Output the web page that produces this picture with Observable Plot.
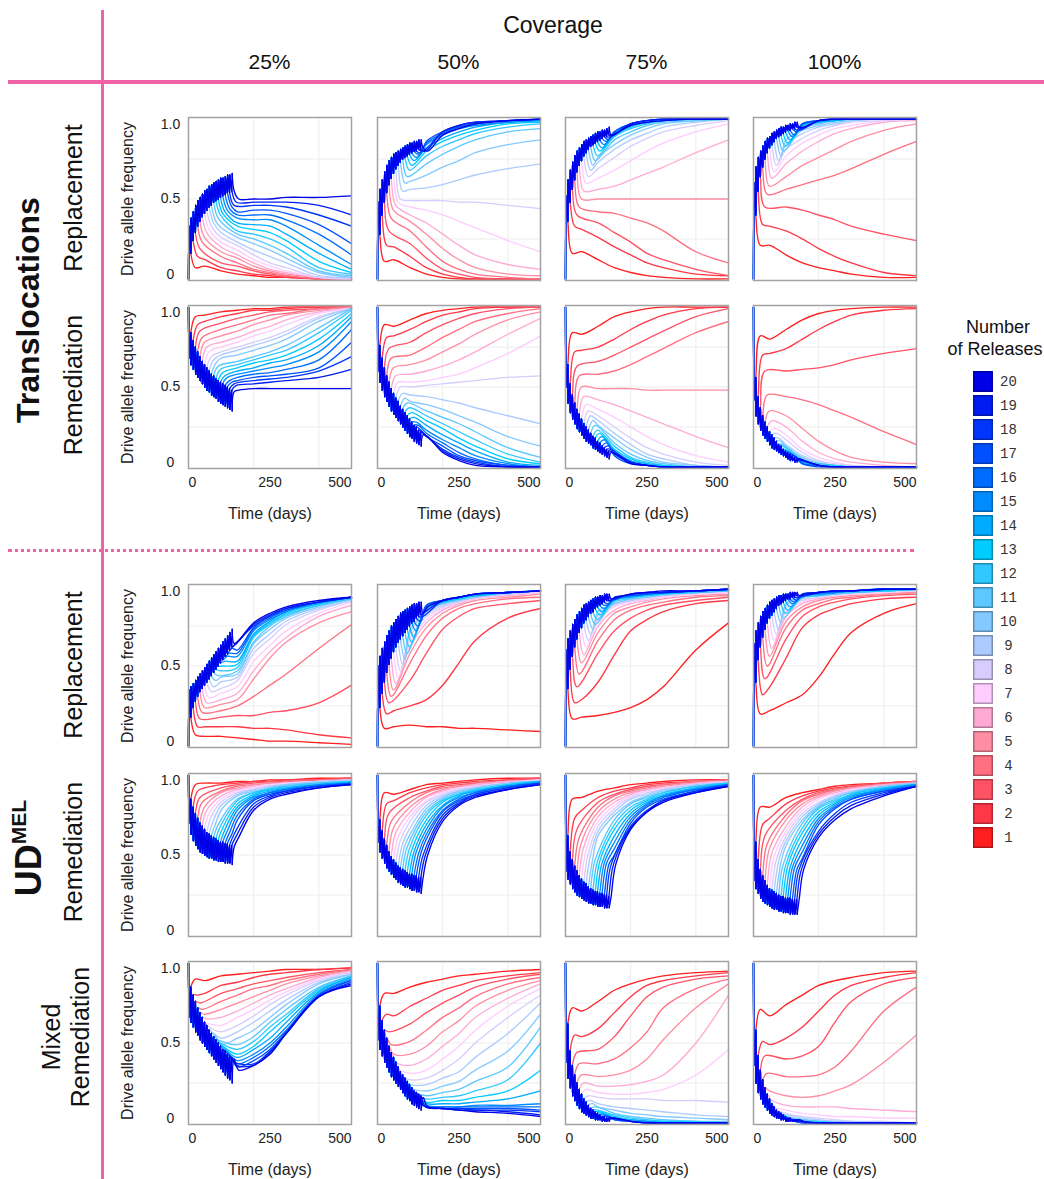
<!DOCTYPE html>
<html>
<head>
<meta charset="utf-8">
<script src="https://cdn.jsdelivr.net/npm/d3@7"></script>
<script src="https://cdn.jsdelivr.net/npm/@observablehq/plot@0.6"></script>
<style>
  html, body { margin: 0; padding: 0; background: #fff; }
  #page { position: relative; width: 1044px; height: 1179px; overflow: hidden; background: #fff;
          font-family: "Liberation Sans", Arial, Helvetica, sans-serif; color: #111; }
  .abs { position: absolute; white-space: nowrap; }
  .ctr { position: absolute; transform: translate(-50%, -50%); white-space: nowrap; text-align: center; }
  .rot { position: absolute; transform: translate(-50%, -50%) rotate(-90deg); white-space: nowrap; text-align: center; }
  .panel { position: absolute; }
</style>
</head>
<body>
<div id="page"></div>
<script>
// ---------------- data ----------------
const releaseNumbers = [1,2,3,4,5,6,7,8,9,10,11,12,13,14,15,16,17,18,19,20];
const releaseColors = ["#ff1f1f","#ff3848","#ff5264","#ff6f82","#ff8ea4","#ffaad4","#ffccff","#d6cdfd","#aecbff","#84c9ff",
                       "#5cc8ff","#30c8ff","#00ccff","#00abff","#008cff","#006cff","#0050ff","#0036fb","#001cf2","#0000e8"];
const releaseDays = [0,7,14,21,28,35,42,49,56,63,70,77,84,91,98,105,112,119,126,133];
const sampleDays = [50,100,150,200,250,300,400,500];
const settleLag = 14;
const coverageLabels = ["25%","50%","75%","100%"];
const xTickValues = [0,250,500];
const xTickLabels = ["0","250","500"];
const yTickValues = [0,50,100];
const yTickLabels = ["0","0.5","1.0"];
const gridDays = [200,400];
const gridFreq = [25,50,75];
const startFreq = [0,100,0,100,100];

// Translocations - Replacement
const trRepPeak = [
 [33,38,42,46,49,51,53,55,56,58,59,60,61,62,63,63,64,65,65,66],
 [48,56,62,67,71,74,76,78,79,80,81,82,83,84,85,85,86,86,87,87],
 [52,62,68,73,77,80,82,84,86,87,88,89,90,91,92,92,93,93,94,95],
 [60,70,76,80,83,86,88,89,91,92,93,94,95,95,96,96,97,97,98,98]];
const trRepPre = [
 [16,24,29,33,36,39,41,43,45,46,48,49,50,51,52,53,54,54,55,55],
 [28,40,48,54,59,63,66,69,71,73,75,76,77,78,79,80,80,81,81,82],
 [36,48,56,62,67,71,74,77,79,81,83,84,85,86,87,88,89,89,90,90],
 [40,55,64,70,75,79,82,84,86,88,89,90,91,92,93,93,94,94,95,95]];
const trRepLines = [
 [[7,8,5,3,2,1,1,0,0],[14,12,7,5,3,2,1,0,0],[19,10,8,5,3,2,0,0],[23,14,10,6,4,2,0,0],[26,17,13,8,5,3,1,0],
  [29,20,15,10,6,4,1,0],[31,23,18,12,8,5,1,0],[33,26,21,15,10,7,1,0],[35,29,23,18,14,10,2,1],[36,32,26,22,18,13,4,1],
  [38,28,25,21,16,5,2],[40,30,28,25,20,7,3],[41,33,31,29,24,11,4],[42,35,34,33,28,16,6],[43,38,37,37,33,21,9],
  [44,40,40,40,37,28,15],[45,42,43,43,41,34,22],[46,46,46,45,40,33],[48,48,48,48,46,40],[50,50,50,51,51,52]],
 [[11,12,7,3,1,0,0,0,0],[21,20,14,7,3,1,0,0,0],[30,22,13,6,3,1,0,0],[38,30,20,11,6,3,1,0],[43,36,28,19,12,7,3,2],
  [46,40,35,28,21,15,9,6],[48,45,43,40,36,32,24,17],[50,49,49,49,48,48,46,44],[55,56,57,59,62,65,69,72],[60,61,65,70,74,79,84,87],
  [64,72,78,83,87,92,94],[68,77,83,87,91,95,97],[71,80,86,90,93,97,98],[74,82,88,92,95,98,99],[76,84,90,94,96,98,99],
  [78,85,91,95,97,99,100],[79,86,92,95,97,99,100],[80,92,96,98,99,100],[80,92,96,98,99,100],[80,90,94,97,99,100]],
 [[16,17,12,7,4,2,1,0,0],[33,31,26,20,15,10,7,3,2],[40,35,29,23,16,12,6,2],[45,42,41,38,35,30,17,10],[50,50,50,50,50,50,50,50],
  [55,56,58,62,66,70,79,87],[60,63,68,74,80,85,92,97],[64,69,76,83,88,92,96,99],[68,73,81,87,91,95,98,100],[71,76,84,90,94,97,99,100],
  [74,87,92,96,98,99,100],[77,89,94,97,99,100,100],[80,90,95,98,99,100,100],[82,91,96,98,99,100,100],[84,92,96,98,99,100,100],
  [86,92,97,99,100,100,100],[87,92,97,99,100,100,100],[89,97,99,100,100,100],[90,97,99,100,100,100],[91,96,98,99,100,100]],
 [[21,21,15,10,7,5,3,1,1],[34,33,30,25,19,14,10,4,2],[45,45,43,40,37,33,28,24],[53,56,59,62,65,69,78,86],[58,64,71,76,81,86,93,97],
  [63,72,80,86,91,94,98,99],[67,77,85,90,94,96,99,100],[71,81,88,93,96,98,99,100],[74,84,91,95,97,99,100,100],[77,87,93,96,98,99,100,100],
  [80,94,97,99,100,100,100],[83,95,98,99,100,100,100],[85,96,98,99,100,100,100],[87,96,98,99,100,100,100],[89,97,99,100,100,100,100],
  [90,97,99,100,100,100,100],[92,97,99,100,100,100,100],[93,99,100,100,100,100],[94,99,100,100,100,100],[95,99,100,100,100,100]]];

// Translocations - Remediation
const trRemPeak = [
 [68,64,61,58,56,54,52,50,48,47,45,44,43,41,40,39,38,37,36,35],
 [60,53,48,44,41,38,35,33,31,29,27,25,23,21,19,18,16,15,14,13],
 [50,40,34,30,27,24,22,20,18,16,15,14,12,11,10,9,8,7,6,5],
 [42,32,27,23,20,18,16,14,12,11,10,9,8,7,6,5,4,4,3,3]];
const trRemPre = [
 [84,79,75,72,69,66,64,62,60,58,57,55,54,53,52,51,50,49,48,47],
 [76,68,62,57,53,49,46,43,41,38,36,34,32,30,28,26,25,23,22,20],
 [64,52,45,40,36,33,30,27,25,23,21,19,18,16,15,13,12,11,10,9],
 [56,44,37,32,28,25,22,20,18,16,14,13,11,10,9,8,7,6,5,5]];
const trRemLines = [
 [[94,95,97,98,99,99,100,100,100],[89,91,94,96,98,98,99,100,100],[85,90,93,95,97,98,99,100],[81,86,89,92,95,96,99,100],[78,82,85,89,92,95,98,100],
  [75,78,81,85,88,92,97,99],[72,75,78,82,85,89,96,99],[69,72,75,78,81,85,94,99],[67,70,73,76,79,83,93,99],[65,68,70,73,76,80,91,99],
  [63,66,69,72,76,87,99],[61,64,67,70,73,84,98],[59,62,65,67,70,80,96],[57,60,62,65,67,76,94],[56,58,60,62,64,72,91],
  [54,56,58,59,61,67,86],[53,54,56,57,58,62,78],[52,54,55,56,60,69],[51,52,53,54,56,61],[48,49,49,49,49,49]],
 [[89,88,92,96,98,99,100,100,100],[81,82,86,91,95,97,99,100,100],[74,78,84,89,93,96,99,100],[68,70,75,81,86,91,96,99],[62,64,67,72,77,83,92,97],
  [57,58,60,63,67,72,83,93],[53,53,54,56,58,62,71,82],[50,50,51,52,53,54,56,57],[46,45,44,42,40,37,32,27],[43,41,39,36,32,28,19,13],
  [40,35,31,27,22,12,6],[37,32,27,22,17,8,3],[34,29,24,18,13,5,2],[31,26,20,15,10,3,1],[28,23,17,12,7,2,0],
  [26,21,15,9,5,1,0],[23,19,13,7,4,1,0],[21,11,6,3,0,0],[20,10,5,2,0,0],[19,9,4,1,0,0]],
 [[84,83,88,94,97,99,100,100,100],[72,73,75,80,86,91,95,99,100],[63,66,70,75,80,85,94,99],[57,58,60,64,69,74,84,91],[50,49,49,49,48,48,48,48],
  [44,42,39,35,31,27,19,12],[39,36,31,25,19,14,7,3],[35,32,25,18,12,8,3,1],[32,29,21,14,8,5,1,0],[29,26,18,11,6,3,1,0],
  [26,15,8,4,2,0,0],[23,13,6,3,1,0,0],[21,11,5,2,1,0,0],[19,10,4,2,0,0,0],[17,9,3,1,0,0,0],
  [15,8,3,1,0,0,0],[13,7,2,1,0,0,0],[11,3,1,0,0,0],[9,3,1,0,0,0],[8,2,1,0,0,0]],
 [[82,80,86,92,96,98,99,100,100],[70,71,74,80,86,91,95,98,99],[60,60,61,62,64,67,71,74],[45,44,42,39,35,31,22,14],[35,32,24,16,10,6,3,2],
  [29,25,16,9,5,3,1,0],[24,20,11,6,3,1,0,0],[21,17,9,4,2,1,0,0],[18,14,7,3,1,0,0,0],[16,12,6,2,1,0,0,0],
  [14,5,2,1,0,0,0],[12,4,2,1,0,0,0],[10,4,1,0,0,0,0],[9,3,1,0,0,0,0],[8,2,1,0,0,0,0],
  [7,2,1,0,0,0,0],[6,2,0,0,0,0,0],[5,1,0,0,0,0],[4,1,0,0,0,0],[4,1,0,0,0,0]]];

// UDMEL - Replacement
const udRepPeak = [
 [35,37,39,41,43,45,47,49,51,53,55,57,59,61,63,65,67,69,71,73],
 [50,56,61,65,69,72,75,77,79,81,83,84,85,86,87,88,89,89,90,90],
 [60,67,72,76,79,82,84,86,88,89,90,91,92,93,93,94,94,95,95,95],
 [64,72,77,81,84,86,88,90,91,92,93,94,94,95,95,95,96,96,96,96]];
const udRepPre = [
 [18,24,28,31,34,36,38,40,42,44,46,48,50,52,54,56,58,60,62,64],
 [24,33,40,46,51,55,59,62,65,67,69,71,73,75,77,78,80,81,82,83],
 [36,48,56,62,67,71,74,77,79,81,83,84,86,87,88,89,90,91,91,92],
 [40,54,62,68,73,77,80,82,84,86,88,89,90,91,92,92,93,93,94,94]];
const udRepLines = [
 [[7,6,6,5,4,3,3,2,1],[12,12,12,12,11,11,10,7,5],[17,18,19,19,21,22,27,38],[21,22,25,31,38,45,61,76],[24,26,29,42,55,65,77,84],
  [27,29,33,47,59,68,81,88],[30,33,37,53,63,72,83,90],[34,36,41,58,67,76,85,91],[37,40,43,61,70,78,86,91],[41,43,45,64,73,80,87,92],
  [44,47,65,75,81,88,92],[47,49,68,76,82,88,92],[50,51,69,77,83,89,93],[53,53,70,78,84,89,93],[56,56,72,79,84,90,93],
  [58,58,73,80,85,90,93],[61,60,74,81,85,90,93],[63,75,81,86,90,93],[64,76,82,86,90,93],[66,77,83,87,91,93]],
 [[11,12,13,12,12,11,11,10,9],[20,22,25,29,38,52,66,80,86],[27,41,58,73,81,86,89,91],[31,52,69,80,86,89,92,93],[35,58,74,83,88,91,93,95],
  [39,62,77,85,89,92,94,96],[43,65,79,86,90,92,95,96],[47,68,81,87,90,93,95,97],[51,71,83,88,91,93,95,97],[54,73,84,89,91,93,96,97],
  [58,85,89,92,94,96,97],[62,86,90,92,94,96,97],[65,86,90,92,94,96,97],[68,87,90,93,94,96,97],[72,87,91,93,95,96,97],
  [75,88,91,93,95,96,97],[78,88,91,93,95,96,97],[81,91,93,95,96,97],[84,91,93,95,96,97],[87,91,93,95,96,97]],
 [[17,18,19,21,24,29,37,60,77],[27,29,40,57,72,79,84,89,91],[37,58,72,80,85,88,91,93],[45,66,79,85,88,90,93,94],[52,71,83,87,90,92,94,95],
  [57,75,85,89,91,93,95,96],[62,78,87,90,92,93,95,96],[66,80,88,91,92,94,96,97],[70,82,89,91,93,94,96,97],[73,84,89,92,93,95,96,97],
  [76,90,92,94,95,96,97],[79,91,93,94,95,96,97],[82,91,93,94,95,97,98],[84,92,93,95,96,97,98],[86,92,94,95,96,97,98],
  [88,93,94,95,96,97,98],[89,93,94,95,96,97,98],[91,95,96,96,97,98],[92,95,96,96,97,98],[93,95,96,97,97,98]],
 [[20,22,27,32,43,58,71,83,89],[32,37,55,74,82,86,89,92,93],[42,67,81,87,90,92,94,95],[50,74,85,89,92,93,95,96],[56,78,87,91,93,94,95,96],
  [61,81,89,92,94,95,96,97],[66,84,90,93,94,95,96,97],[70,86,91,93,95,96,97,97],[73,88,92,94,95,96,97,98],[77,89,93,94,95,96,97,98],
  [80,93,94,95,96,97,98],[83,93,94,96,96,97,98],[85,94,95,96,97,97,98],[87,94,95,96,97,98,98],[89,94,95,96,97,98,98],
  [90,95,96,96,97,98,98],[91,95,96,97,97,98,98],[93,96,97,97,98,98],[94,96,97,97,98,98],[95,96,97,97,98,98]]];

// UDMEL - Remediation
const udRemPeak = [
 [70,63,59,56,54,52,51,50,49,48,48,47,47,46,46,46,45,45,45,44],
 [58,52,48,45,42,40,38,36,35,33,32,31,30,30,29,28,28,27,27,26],
 [40,35,32,29,27,25,24,23,22,21,20,20,19,19,18,18,18,17,17,17],
 [34,29,26,23,21,20,19,18,17,16,16,15,15,14,14,14,13,13,13,13]];
const udRemPre = [
 [85,80,76,73,70,68,66,64,63,62,61,60,59,58,58,57,57,56,56,55],
 [72,65,60,56,52,49,47,45,43,42,41,40,39,38,38,37,37,36,36,36],
 [62,52,47,43,40,37,35,33,32,30,29,28,27,27,26,26,25,25,24,24],
 [58,47,41,37,34,31,29,28,27,26,25,24,24,23,23,23,22,22,22,22]];
const udRemLines = [
 [[94,95,95,96,96,97,97,98,98],[90,92,94,95,96,96,97,97,98],[86,92,94,95,96,96,97,98],[83,90,93,94,95,96,97,97],[80,89,92,94,95,95,96,97],
  [78,87,91,93,94,95,96,97],[76,85,90,92,94,95,96,97],[74,83,89,91,93,94,96,97],[72,81,88,91,93,94,96,97],[70,78,87,90,92,94,95,96],
  [69,85,89,92,93,95,96],[68,84,89,91,93,95,96],[67,82,88,91,92,94,96],[66,80,87,90,92,94,95],[65,78,86,89,91,94,95],
  [64,75,85,89,91,93,95],[63,72,84,88,90,93,95],[63,82,87,90,93,94],[62,80,86,89,92,94],[61,78,85,88,92,94]],
 [[89,88,91,94,95,96,97,98,98],[82,84,89,92,94,95,96,97,98],[76,86,90,93,94,95,97,98],[71,83,89,92,93,95,96,97],[67,80,87,91,93,94,96,97],
  [64,77,86,90,92,94,96,97],[61,74,84,89,92,93,95,97],[59,71,83,88,91,93,95,97],[57,67,81,87,90,92,95,96],[56,63,79,86,90,92,95,96],
  [55,77,85,89,91,94,96],[54,75,84,88,91,94,96],[53,72,83,88,90,94,96],[52,69,81,87,90,93,96],[52,66,80,86,89,93,95],
  [51,63,78,85,89,93,95],[51,60,77,84,88,92,95],[50,75,83,88,92,95],[50,73,82,87,91,94],[50,71,81,86,91,94]],
 [[85,86,90,92,94,95,96,97,97],[73,78,86,90,92,94,95,96,97],[66,83,88,91,93,94,96,97],[61,80,87,90,92,94,96,97],[58,77,85,89,91,93,95,96],
  [55,74,83,88,91,92,95,96],[53,71,81,87,90,92,94,96],[51,68,79,86,89,91,94,96],[50,65,77,85,88,91,94,95],[48,62,75,83,87,90,93,95],
  [47,72,82,86,89,93,95],[46,69,80,85,89,93,95],[46,66,78,84,88,92,95],[45,62,76,83,87,92,94],[45,58,74,82,87,91,94],
  [45,54,72,81,86,91,94],[44,50,70,80,85,90,94],[44,68,78,84,90,93],[44,67,77,84,89,93],[44,66,77,83,89,93]],
 [[80,80,86,89,91,93,94,95,96],[69,73,82,87,90,92,93,95,96],[62,78,85,89,91,93,95,96],[57,75,84,88,91,92,94,96],[54,72,82,87,90,92,94,95],
  [51,68,80,86,89,91,94,95],[49,65,78,85,88,91,93,95],[47,62,76,83,87,90,93,95],[46,59,74,82,87,90,93,95],[45,56,72,81,86,89,93,95],
  [44,70,80,85,89,92,94],[43,67,79,84,88,92,94],[43,64,77,83,88,92,94],[42,60,75,82,87,91,94],[42,56,73,81,86,91,94],
  [42,52,71,80,85,90,93],[41,48,69,79,85,90,93],[41,65,76,83,89,93],[41,63,74,81,88,93],[41,61,72,79,87,93]]];

// UDMEL - Mixed Remediation
const udMixPeak = [
 [66,63,60,57,55,52,50,48,46,44,42,40,38,36,34,32,30,28,27,25],
 [52,46,42,38,35,32,29,27,25,23,21,19,17,15,14,12,11,10,9,8],
 [38,28,22,17,14,11,9,7,6,5,4,3,3,2,2,2,1,1,1,1],
 [36,25,19,15,12,10,8,6,5,4,3,3,2,2,1,1,1,1,1,1]];
const udMixPre = [
 [85,80,76,72,69,66,63,61,58,56,54,52,50,48,46,45,43,42,41,40],
 [73,64,58,53,48,44,41,38,35,32,30,28,26,24,22,20,19,18,17,16],
 [62,45,36,30,25,21,18,15,13,11,9,8,7,6,5,4,4,3,3,3],
 [58,42,33,27,22,18,15,12,10,8,7,6,5,4,3,3,2,2,2,2]];
const udMixLines = [
 [[90,89,92,93,94,95,96,96,97],[80,81,86,88,91,93,94,96,97],[75,81,84,87,89,91,94,96],[71,76,80,84,86,89,93,96],[68,71,75,79,83,87,92,95],
  [65,66,70,75,80,84,91,95],[62,61,66,71,77,82,90,94],[59,57,61,67,74,80,89,94],[56,53,57,63,70,77,88,93],[54,49,53,58,66,74,87,93],
  [52,49,54,63,71,85,92],[50,46,51,60,68,84,92],[48,43,48,57,66,83,91],[46,41,46,53,63,82,91],[44,39,43,50,60,81,90],
  [42,37,41,48,58,80,89],[40,35,39,46,57,80,89],[38,37,45,56,79,88],[36,36,44,56,79,87],[33,36,43,56,79,86]],
 [[81,81,85,88,90,92,93,95,96],[68,67,73,78,83,86,89,92,94],[57,62,69,75,80,85,90,93],[49,51,58,66,72,79,87,91],[43,43,48,57,64,73,83,89],
  [38,36,40,48,56,66,78,87],[34,31,33,40,48,58,73,84],[30,27,28,33,40,50,66,80],[27,24,24,28,32,41,56,75],[25,22,20,23,26,33,45,68],
  [22,17,19,21,26,35,60],[20,15,16,17,20,27,50],[18,13,14,14,16,20,33],[16,12,12,12,13,15,20],[14,11,10,10,11,11,12],
  [13,10,10,10,10,10,10],[12,10,9,9,9,9,8],[11,9,9,8,8,7],[10,9,8,8,7,5],[10,9,8,7,6,4]],
 [[72,70,76,83,87,90,92,94,95],[55,54,59,69,79,86,89,92,94],[44,46,54,67,79,85,90,92],[37,37,40,47,57,72,84,90],[30,29,30,33,40,52,72,87],
  [25,23,23,24,26,30,50,80],[21,19,18,18,19,21,30,46],[17,16,15,15,15,14,14,13],[14,12,10,9,8,7,5,4],[12,10,8,6,5,4,3,2],
  [10,6,4,3,2,1,1],[8,5,3,2,1,1,0],[7,4,2,1,1,0,0],[6,3,2,1,0,0,0],[5,2,1,1,0,0,0],
  [4,2,1,0,0,0,0],[4,2,1,0,0,0,0],[3,1,0,0,0,0],[3,1,0,0,0,0],[3,1,0,0,0,0]],
 [[71,67,74,80,86,89,91,94,95],[51,49,53,60,70,80,86,91,94],[42,40,42,48,63,76,87,91],[31,29,29,30,35,45,70,85],[20,17,16,17,20,24,38,55],
  [14,11,10,10,10,9,8,7],[10,8,6,5,4,4,3,3],[8,6,4,3,2,1,1,0],[6,5,3,2,1,1,0,0],[5,4,2,1,1,0,0,0],
  [4,2,1,0,0,0,0],[3,1,1,0,0,0,0],[3,1,0,0,0,0,0],[2,1,0,0,0,0,0],[2,1,0,0,0,0,0],
  [1,0,0,0,0,0,0],[1,0,0,0,0,0,0],[1,0,0,0,0,0],[1,0,0,0,0,0],[1,0,0,0,0,0]]];

const rowPeaks = [trRepPeak, trRemPeak, udRepPeak, udRemPeak, udMixPeak];
const rowPres  = [trRepPre, trRemPre, udRepPre, udRemPre, udMixPre];
const rowLines = [trRepLines, trRemLines, udRepLines, udRemLines, udMixLines];
const rowHasTimeAxis = [false, true, false, false, true];

// ---------------- layout ----------------
const page = document.getElementById("page");
const FONT = "Liberation Sans, Arial, Helvetica, sans-serif";
const colLeft = [188, 377, 565, 753];
const rowTop = [117, 305, 584, 773, 961];
const PW = 163, PH = 163;
const ML = 80, MR = 4, MT = 4, MB = 60;

// release sawtooth (shared by all lines) and each line's own course after its last release
function buildSeries(start, peak, pre, lines) {
  const saw = [], post = [];
  lines.forEach((own, i) => {
    const k = releaseNumbers[i];
    let before = start;
    for (let r = 0; r < k; r++) {
      saw.push({k, t: releaseDays[r], v: before});
      saw.push({k, t: releaseDays[r] + 1, v: peak[r]});
      before = pre[r];
    }
    const lastRelease = releaseDays[k - 1] + 1;
    const stop = releaseDays[k - 1] + 7;
    post.push({k, t: lastRelease, v: peak[k - 1]});
    post.push({k, t: stop, v: pre[k - 1]});
    const settleDay = stop + settleLag;
    post.push({k, t: settleDay, v: own[0]});
    const rest = own.slice(1);
    const days = sampleDays.slice(sampleDays.length - rest.length);
    rest.forEach((v, j) => { if (days[j] > settleDay + 5) post.push({k, t: days[j], v}); });
  });
  return {saw, post};
}

function addDiv(cls, html, x, y, style) {
  const d = document.createElement("div");
  d.className = cls;
  d.innerHTML = html;
  d.style.left = x + "px";
  d.style.top = y + "px";
  Object.assign(d.style, style || {});
  page.appendChild(d);
  return d;
}

for (let r = 0; r < 5; r++) {
  for (let c = 0; c < 4; c++) {
    const {saw, post} = buildSeries(startFreq[r], rowPeaks[r][c], rowPres[r][c], rowLines[r][c]);
    const marks = [
      Plot.gridX(gridDays, {stroke: "#ededed", strokeOpacity: 1, strokeWidth: 1}),
      Plot.gridY(gridFreq, {stroke: "#ededed", strokeOpacity: 1, strokeWidth: 1}),
      Plot.line(post, {x: "t", y: "v", z: "k", stroke: "k", strokeWidth: 1.35, curve: "catmull-rom"}),
      Plot.line(saw, {x: "t", y: "v", z: "k", stroke: "k", strokeWidth: 1.35, curve: "linear"}),
      Plot.frame({stroke: "#a2a2a2", strokeWidth: 1.5})
    ];
    if (c === 0) {
      const anchors = ["bottom", "middle", "top"];
      yTickValues.forEach((v, i) => marks.push(Plot.text([v], {
        y: d => d, text: () => yTickLabels[i], frameAnchor: "left", dx: -18,
        textAnchor: "middle", lineAnchor: anchors[i], fontSize: 14, fill: "#222"})));
      marks.push(Plot.text(["Drive allele frequency"], {
        text: d => d, frameAnchor: "left", rotate: -90, dx: -61,
        textAnchor: "middle", lineAnchor: "middle", fontSize: 16, fill: "#222"}));
    }
    if (rowHasTimeAxis[r]) {
      const ta = ["start", "middle", "end"];
      xTickValues.forEach((v, i) => marks.push(Plot.text([v], {
        x: d => d, text: () => xTickLabels[i], frameAnchor: "bottom", dy: 9,
        lineAnchor: "top", textAnchor: ta[i], fontSize: 14, fill: "#222"})));
      marks.push(Plot.text(["Time (days)"], {
        text: d => d, frameAnchor: "bottom", dy: 45, lineAnchor: "middle", fontSize: 16, fill: "#222"}));
    }
    const svg = Plot.plot({
      width: PW + ML + MR, height: PH + MT + MB,
      marginLeft: ML, marginRight: MR, marginTop: MT, marginBottom: MB,
      x: {domain: [0, 500], axis: null},
      y: {domain: [-1, 101], axis: null},
      color: {type: "ordinal", domain: releaseNumbers, range: releaseColors},
      style: {background: "transparent", fontFamily: FONT, overflow: "visible"},
      marks
    });
    svg.classList.add("panel");
    svg.style.left = (colLeft[c] - ML) + "px";
    svg.style.top = (rowTop[r] - MT) + "px";
    svg.style.maxWidth = "none";
    page.appendChild(svg);
  }
}

// legend
const legend = Plot.plot({
  width: 80, height: 490, marginLeft: 3, marginRight: 57, marginTop: 0, marginBottom: 0,
  y: {type: "band", domain: releaseNumbers.slice().reverse(), padding: 0.14, axis: null},
  color: {type: "ordinal", domain: releaseNumbers, range: releaseColors},
  style: {background: "transparent", fontFamily: FONT, overflow: "visible"},
  marks: [
    Plot.cell(releaseNumbers, {y: d => d, fill: d => d}),
    Plot.cell(releaseNumbers, {y: d => d, fill: "none", stroke: "#000", strokeOpacity: 0.3, strokeWidth: 1.5, inset: 0.75}),
    Plot.text(releaseNumbers, {y: d => d, text: d => String(d), frameAnchor: "right", dx: 15, textAnchor: "middle",
      fontFamily: "Liberation Mono, DejaVu Sans Mono, monospace", fontSize: 14, fill: "#333"})
  ]
});
legend.classList.add("panel");
legend.style.left = "970px";
legend.style.top = "364px";
legend.style.maxWidth = "none";
page.appendChild(legend);
addDiv("ctr", "Number", 998, 327, {fontSize: "18px"});
addDiv("ctr", "of Releases", 995, 349, {fontSize: "18px"});

// headers
addDiv("ctr", "Coverage", 553, 25, {fontSize: "23px"});
coverageLabels.forEach((lab, c) => addDiv("ctr", lab, colLeft[c] + PW / 2, 62, {fontSize: "21px"}));

// pink rules
addDiv("abs", "", 101, 10, {width: "3px", height: "1169px", background: "#ef62a8"});
addDiv("abs", "", 8, 80, {width: "1036px", height: "4px", background: "#ef62a8"});
addDiv("abs", "", 8, 549, {width: "906px", height: "0px", borderTop: "3px dotted #ef62a8"});

// row labels
addDiv("rot", "Translocations", 28, 310, {fontSize: "32px", fontWeight: "bold"});
addDiv("rot", "UD<sup style='font-size:21px;vertical-align:15px'>MEL</sup>", 28, 848, {fontSize: "36px", fontWeight: "bold"});
addDiv("rot", "Replacement", 73, 198, {fontSize: "25px"});
addDiv("rot", "Remediation", 73, 385, {fontSize: "25px"});
addDiv("rot", "Replacement", 73, 665, {fontSize: "25px"});
addDiv("rot", "Remediation", 73, 852, {fontSize: "25px"});
addDiv("rot", "Mixed<br>Remediation", 66, 1037, {fontSize: "25px", lineHeight: "29px"});
</script>
</body>
</html>
